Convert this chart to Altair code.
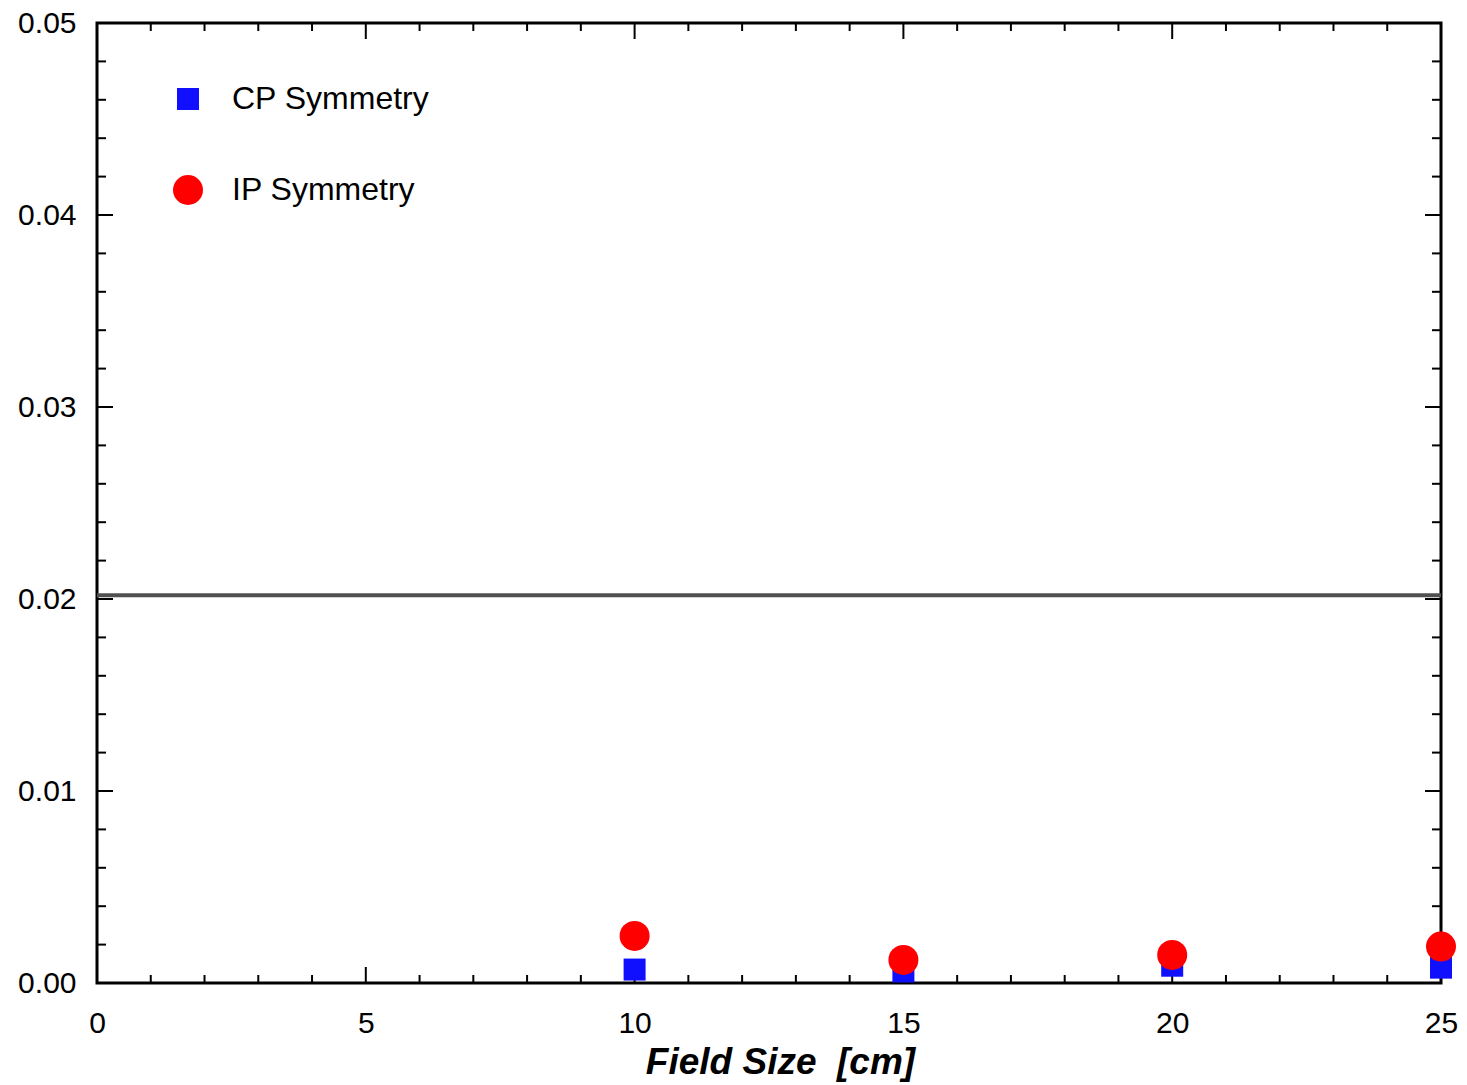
import altair as alt
import pandas as pd

# ---- data ----
field_size = [10, 15, 20, 25]
cp_symmetry = [0.0007, 0.0006, 0.0009, 0.0008]
ip_symmetry = [0.00245, 0.0012, 0.00146, 0.0019]
series_names = ["CP Symmetry", "IP Symmetry"]
limit_value = [0.0202]

x_major = [0, 5, 10, 15, 20, 25]
x_minor = [1, 2, 3, 4, 6, 7, 8, 9, 11, 12, 13, 14, 16, 17, 18, 19, 21, 22, 23, 24]
y_major = [0.0, 0.01, 0.02, 0.03, 0.04, 0.05]
y_minor = [0.002, 0.004, 0.006, 0.008, 0.012, 0.014, 0.016, 0.018,
           0.022, 0.024, 0.026, 0.028, 0.032, 0.034, 0.036, 0.038,
           0.042, 0.044, 0.046, 0.048]

W, H = 1344, 960
FONT = "Liberation Sans"

pts = pd.DataFrame(
    {"x": field_size + field_size,
     "y": cp_symmetry + ip_symmetry,
     "series": [series_names[0]] * len(field_size) + [series_names[1]] * len(field_size)}
)

x_enc = alt.X("x:Q",
              scale=alt.Scale(domain=[0, 25], nice=False, zero=False),
              axis=alt.Axis(values=x_major, format="d", ticks=False, domain=False, grid=False,
                            labelFont=FONT, labelFontSize=30, labelColor="black", labelPadding=25,
                            labelFlush=False,
                            title="Field Size\u00a0 [cm]", titleFont=FONT, titleFontSize=37,
                            titleFontWeight="bold", titleFontStyle="italic", titleColor="black",
                            titleX=683, titleY=90, titleBaseline="alphabetic", titleAlign="center"))
y_enc = alt.Y("y:Q",
              scale=alt.Scale(domain=[0, 0.05], nice=False, zero=False),
              axis=alt.Axis(values=y_major, format=".2f", ticks=False, domain=False, grid=False,
                            labelFont=FONT, labelFontSize=30, labelColor="black", labelPadding=21,
                            labelFlush=False, title=None))

points = alt.Chart(pts).mark_point(filled=True, opacity=1, strokeWidth=0).encode(
    x=x_enc, y=y_enc,
    color=alt.Color("series:N", scale=alt.Scale(domain=series_names, range=["#1010ff", "#ff0000"]),
                    legend=alt.Legend(title=None, orient="none", legendX=75, legendY=60,
                                      labelFont=FONT, labelFontSize=32, labelColor="black",
                                      labelLimit=1000,
                                      rowPadding=59, labelOffset=28, symbolStrokeWidth=0)),
    shape=alt.Shape("series:N", scale=alt.Scale(domain=series_names, range=["square", "circle"])),
    size=alt.Size("series:N", scale=alt.Scale(domain=series_names, range=[484, 900])),
    order=alt.Order("series:N"),
)

limit = alt.Chart(pd.DataFrame({"y": limit_value})).mark_rule(color="#505050", strokeWidth=4).encode(
    y=y_enc, x=alt.value(0), x2=alt.value(W)
)

def xticks(vals, length):
    df = pd.DataFrame({"x": vals})
    bottom = alt.Chart(df).mark_rule(color="black", strokeWidth=2).encode(
        x=x_enc, y=alt.value(H), y2=alt.value(H - length))
    top = alt.Chart(df).mark_rule(color="black", strokeWidth=2).encode(
        x=x_enc, y=alt.value(0), y2=alt.value(length))
    return [bottom, top]

def yticks(vals, length):
    df = pd.DataFrame({"y": vals})
    left = alt.Chart(df).mark_rule(color="black", strokeWidth=2).encode(
        y=y_enc, x=alt.value(0), x2=alt.value(length))
    right = alt.Chart(df).mark_rule(color="black", strokeWidth=2).encode(
        y=y_enc, x=alt.value(W), x2=alt.value(W - length))
    return [left, right]

layers = xticks(x_major, 16) + xticks(x_minor, 8) + yticks(y_major, 16) + yticks(y_minor, 9) + [limit, points]

chart = alt.layer(*layers).properties(
    width=W, height=H, autosize="none",
    padding={"left": 89, "top": 15, "right": 18, "bottom": 100},
    background="white",
).configure_view(stroke="black", strokeWidth=3)

chart.save("out.html", embed_options={"renderer": "svg", "actions": False})
